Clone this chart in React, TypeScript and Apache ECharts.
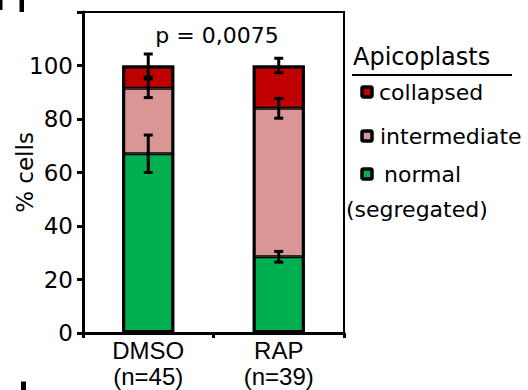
import React, { useEffect, useRef } from "react";
import * as echarts from "echarts";

const categories = ["DMSO\n(n=45)", "RAP\n(n=39)"];
const seriesNames = ["normal", "intermediate", "collapsed"];
const normalValues = [67, 28.5];
const intermediateValues = [24.5, 55.5];
const collapsedValues = [8.5, 16];
const normalErr = [7, 2];
const intermediateErr = [3.5, 3.7];
const collapsedErr = [4.3, 2.7];
const yTicks = [0, 20, 40, 60, 80, 100];
const pValueText = "p = 0,0075";
const legendTitle = "Apicoplasts";
const legendLabels = ["collapsed", "intermediate", "normal", "(segregated)"];

const COLORS: Record<string, string> = {
  normal: "#00b050",
  intermediate: "#d99694",
  collapsed: "#c00000",
};
const FONT = "DejaVu Sans";
const FONT2 = "Liberation Sans";

export default function App() {
  const ref = useRef<HTMLDivElement>(null);
  useEffect(() => {
    if (!ref.current) return;
    const chart = echarts.init(ref.current, null, { renderer: "svg" });

    const errData: number[][] = [];
    const totals: number[] = [];
    categories.forEach((_, i) => {
      const n = normalValues[i];
      const m = n + intermediateValues[i];
      const c = m + collapsedValues[i];
      totals.push(c);
      errData.push([i, n, normalErr[i]]);
      errData.push([i, m, intermediateErr[i]]);
      errData.push([i, c, collapsedErr[i]]);
    });

    const barBase = {
      type: "bar",
      stack: "total",
      barWidth: 52,
      itemStyle: { borderColor: "#000", borderWidth: 1.5 },
      emphasis: { disabled: true },
    };

    const legendIconY = [92, 136, 174];
    const legendItems: any[] = [];
    ["collapsed", "intermediate", "normal"].forEach((name, i) => {
      legendItems.push({
        type: "rect",
        shape: { x: 362, y: legendIconY[i] - 5, width: 10, height: 10, r: 1.5 },
        style: { fill: COLORS[name], stroke: "#000", lineWidth: 3.5 },
      });
    });
    const legendTextPos = [
      [379, 92],
      [380, 136],
      [384, 174],
      [346, 209],
    ];
    legendLabels.forEach((t, i) => {
      legendItems.push({
        type: "text",
        x: legendTextPos[i][0],
        y: legendTextPos[i][1],
        style: {
          text: t,
          font: `22px "${FONT}"`,
          fill: "#000",
          textAlign: "left",
          textVerticalAlign: "middle",
          align: "left",
          verticalAlign: "middle",
        },
      });
    });

    chart.setOption({
      animation: false,
      backgroundColor: "#fff",
      grid: {
        left: 83,
        right: 184,
        top: 12,
        bottom: 57,
        show: true,
        borderColor: "#000",
        borderWidth: 2,
        containLabel: false,
      },
      xAxis: {
        type: "category",
        data: categories,
        axisLine: { show: true, lineStyle: { color: "#000", width: 3 } },
        axisTick: { show: true, length: 5, lineStyle: { color: "#000", width: 3 } },
        axisLabel: {
          color: "#000",
          fontFamily: FONT2,
          fontSize: 24,
          lineHeight: 26,
          margin: 4,
        },
        splitLine: { show: false },
      },
      yAxis: {
        type: "value",
        min: 0,
        max: 120,
        interval: 20,
        name: "% cells",
        nameLocation: "middle",
        nameGap: 47,
        nameMoveOverlap: false,
        nameTextStyle: { color: "#000", fontFamily: FONT, fontSize: 23 },
        axisLine: { show: true, lineStyle: { color: "#000", width: 3 } },
        axisTick: { show: true, length: 6, lineStyle: { color: "#000", width: 3 } },
        axisLabel: {
          color: "#000",
          fontFamily: FONT,
          fontSize: 23,
          margin: 10,
          formatter: (v: number) => (yTicks.includes(v) ? String(v) : ""),
        },
        splitLine: { show: false },
      },
      series: [
        {
          ...barBase,
          name: seriesNames[0],
          data: normalValues,
          itemStyle: { ...barBase.itemStyle, color: COLORS.normal },
        },
        {
          ...barBase,
          name: seriesNames[1],
          data: intermediateValues,
          itemStyle: { ...barBase.itemStyle, color: COLORS.intermediate },
        },
        {
          ...barBase,
          name: seriesNames[2],
          data: collapsedValues,
          itemStyle: { ...barBase.itemStyle, color: COLORS.collapsed },
        },
        {
          type: "bar",
          name: "outline",
          data: totals,
          barWidth: 52,
          barGap: "-100%",
          z: 5,
          silent: true,
          emphasis: { disabled: true },
          itemStyle: { color: "rgba(0,0,0,0)", borderColor: "#000", borderWidth: 3 },
        },
        {
          type: "custom",
          name: "error",
          data: errData,
          z: 10,
          renderItem: (params: any, api: any) => {
            const x = api.value(0);
            const c = api.value(1);
            const e = api.value(2);
            const top = api.coord([x, c + e]);
            const bot = api.coord([x, c - e]);
            const hw = 4.5;
            const style = { stroke: "#000", lineWidth: 3 };
            return {
              type: "group",
              children: [
                { type: "line", shape: { x1: top[0], y1: top[1], x2: bot[0], y2: bot[1] }, style },
                { type: "line", shape: { x1: top[0] - hw, y1: top[1], x2: top[0] + hw, y2: top[1] }, style },
                { type: "line", shape: { x1: bot[0] - hw, y1: bot[1], x2: bot[0] + hw, y2: bot[1] }, style },
              ],
            };
          },
        },
      ],
      graphic: [
        {
          type: "text",
          x: 217,
          y: 35,
          style: {
            text: pValueText,
            font: `22px "${FONT}"`,
            fill: "#000",
            textAlign: "center",
            textVerticalAlign: "middle",
            align: "center",
            verticalAlign: "middle",
          },
        },
        {
          type: "text",
          x: 353,
          y: 57,
          style: {
            text: legendTitle,
            font: `24px "${FONT}"`,
            fill: "#000",
            textAlign: "left",
            textVerticalAlign: "middle",
            align: "left",
            verticalAlign: "middle",
          },
        },
        {
          type: "line",
          shape: { x1: 352, y1: 75, x2: 512, y2: 75 },
          style: { stroke: "#000", lineWidth: 2 },
        },
        ...legendItems,
        { type: "rect", shape: { x: 0, y: 0, width: 2.5, height: 10 }, style: { fill: "#000" } },
        { type: "rect", shape: { x: 19.5, y: 0, width: 4.5, height: 12 }, style: { fill: "#000" } },
        { type: "rect", shape: { x: 21, y: 381.5, width: 5, height: 9 }, style: { fill: "#000" } },
      ],
    });
    return () => chart.dispose();
  }, []);
  return <div ref={ref} style={{ width: 528, height: 390, position: "fixed", left: 0, top: 0 }} />;
}
